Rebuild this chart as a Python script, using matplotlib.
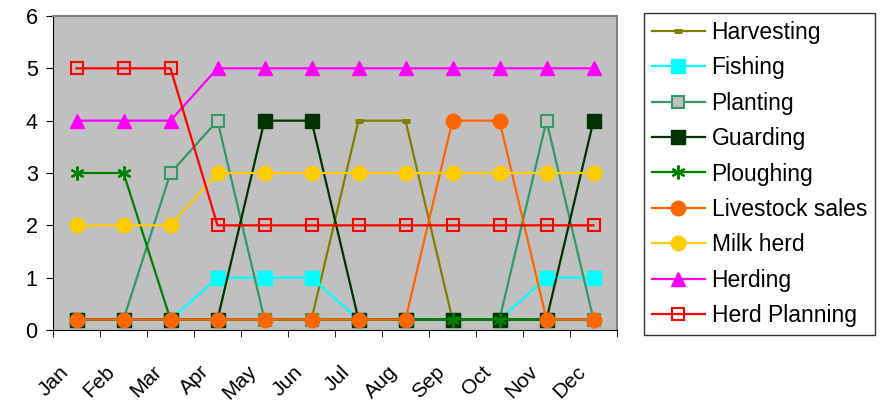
import matplotlib.pyplot as plt
import matplotlib.transforms as mtransforms

plt.rcParams["font.family"] = ["Liberation Sans", "DejaVu Sans"]

months = ["Jan", "Feb", "Mar", "Apr", "May", "Jun", "Jul", "Aug", "Sep", "Oct", "Nov", "Dec"]

harvesting = [0.2, 0.2, 0.2, 0.2, 0.2, 0.2, 4, 4, 0.2, 0.2, 0.2, 0.2]
fishing = [0.2, 0.2, 0.2, 1, 1, 1, 0.2, 0.2, 0.2, 0.2, 1, 1]
planting = [0.2, 0.2, 3, 4, 0.2, 0.2, 0.2, 0.2, 0.2, 0.2, 4, 0.2]
guarding = [0.2, 0.2, 0.2, 0.2, 4, 4, 0.2, 0.2, 0.2, 0.2, 0.2, 4]
ploughing = [3, 3, 0.2, 0.2, 0.2, 0.2, 0.2, 0.2, 0.2, 0.2, 0.2, 0.2]
livestock_sales = [0.2, 0.2, 0.2, 0.2, 0.2, 0.2, 0.2, 0.2, 4, 4, 0.2, 0.2]
milk_herd = [2, 2, 2, 3, 3, 3, 3, 3, 3, 3, 3, 3]
herding = [4, 4, 4, 5, 5, 5, 5, 5, 5, 5, 5, 5]
herd_planning = [5, 5, 5, 2, 2, 2, 2, 2, 2, 2, 2, 2]

fig = plt.figure(figsize=(8.92, 4.03), dpi=100)
ax = fig.add_axes([53 / 892, 73 / 403, 564 / 892, 314 / 403])
ax.set_facecolor("#C0C0C0")

x = list(range(len(months)))
lw = 1.6
ms = 10

ax.plot(x, harvesting, color="#808000", lw=lw, marker="_", ms=6, mew=3.5, label="Harvesting")
ax.plot(x, fishing, color="#00FFFF", lw=lw, marker="s", ms=ms, mfc="#00FFFF", mec="#00FFFF", label="Fishing")
ax.plot(x, planting, color="#339966", lw=lw, marker="s", ms=ms - 1, mfc="#C0C0C0", mec="#339966", mew=1.5, label="Planting")
ax.plot(x, guarding, color="#003300", lw=lw, marker="s", ms=ms, mfc="#003300", mec="#003300", label="Guarding")
ax.plot(x, ploughing, color="#008000", lw=lw, marker=(6, 2, 0), ms=ms, mew=1.6, mec="#008000", label="Ploughing")
ax.plot(x, livestock_sales, color="#FF6600", lw=lw, marker="o", ms=ms + 0.5, mfc="#FF6600", mec="#FF6600", label="Livestock sales")
ax.plot(x, milk_herd, color="#FFCC00", lw=lw, marker="o", ms=ms + 0.5, mfc="#FFCC00", mec="#FFCC00", label="Milk herd")
ax.plot(x, herding, color="#FF00FF", lw=lw, marker="^", ms=ms + 0.5, mfc="#FF00FF", mec="#FF00FF", label="Herding")
ax.plot(x, herd_planning, color="#FF0000", lw=lw, marker="s", ms=ms - 1, mfc="none", mec="#FF0000", mew=1.5, label="Herd Planning")

ax.set_xlim(-0.5, 11.5)
ax.set_ylim(0, 6)
ax.set_yticks(range(0, 7))
ax.tick_params(axis="y", labelsize=15.5, length=5, direction="out", pad=6)

ax.set_xticks(x)
ax.set_xticklabels(months, rotation=45, ha="right", rotation_mode="anchor", fontsize=15)
ax.tick_params(axis="x", which="major", length=0, pad=23)
shift = mtransforms.ScaledTranslation(-18 / 100, 0, fig.dpi_scale_trans)
for lab in ax.get_xticklabels():
    lab.set_transform(lab.get_transform() + shift)
ax.set_xticks([i - 0.5 for i in range(13)], minor=True)
ax.tick_params(axis="x", which="minor", length=5, direction="out")

ax.spines["top"].set_color("#808080")
ax.spines["right"].set_color("#808080")
ax.spines["top"].set_linewidth(1.5)
ax.spines["right"].set_linewidth(1.5)

leg = fig.legend(loc="upper left", bbox_to_anchor=(644 / 892, 390 / 403), fontsize=16.5,
                 frameon=True, fancybox=False, edgecolor="#333333", framealpha=1,
                 handlelength=2.3, labelspacing=0.54, borderpad=0.35, handletextpad=0.3,
                 borderaxespad=0)
leg.get_frame().set_linewidth(1.0)

fig.savefig("out.png", dpi=100)
